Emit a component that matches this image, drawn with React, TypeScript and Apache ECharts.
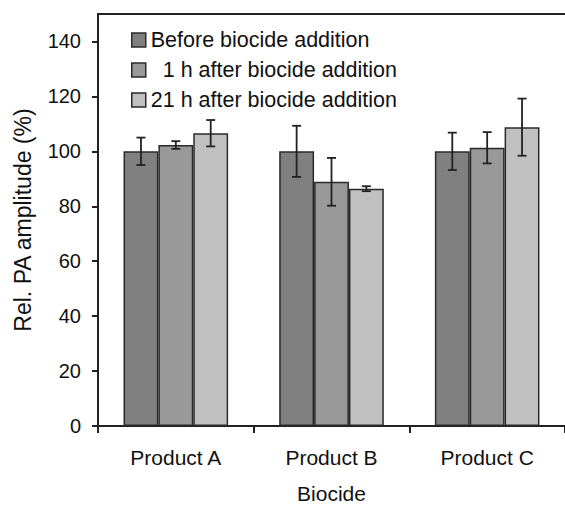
import React, { useEffect, useRef } from "react";
import * as echarts from "echarts";

const categories = ["Product A", "Product B", "Product C"];
const seriesNames = [
  "Before biocide addition",
  "\u00a0\u00a01 h after biocide addition",
  "21 h after biocide addition",
];
const before = [100, 100, 100];
const after1h = [102.3, 88.9, 101.3];
const after21h = [106.6, 86.4, 108.8];
const errBefore = [5.0, 9.3, 6.8];
const err1h = [1.4, 8.7, 5.7];
const err21h = [4.8, 0.9, 10.4];
const yTicks = [0, 20, 40, 60, 80, 100, 120, 140];

const colors = ["#808080", "#999999", "#c0c0c0"];
const FONT = "'Liberation Sans', Arial, sans-serif";
const BAR_FRAC = 0.224;

export default function App() {
  const ref = useRef<HTMLDivElement>(null);
  useEffect(() => {
    if (!ref.current) return;
    const chart = echarts.init(ref.current, null, { renderer: "svg" });
    const values = [before, after1h, after21h];
    const errs = [errBefore, err1h, err21h];
    const errData: any[] = [];
    values.forEach((arr, k) => {
      arr.forEach((v, i) => errData.push([i, v, errs[k][i], k]));
    });
    const barSeries = values.map((arr, k) => ({
      name: seriesNames[k],
      type: "bar",
      data: arr,
      barWidth: BAR_FRAC * 100 + "%",
      barGap: "0%",
      itemStyle: { color: colors[k], borderColor: "#2a2a2a", borderWidth: 1.5 },
      emphasis: { disabled: true },
    }));
    chart.setOption({
      animation: false,
      textStyle: { fontFamily: FONT },
      grid: { left: 98, right: -8.5, top: 14, bottom: 76 },
      legend: {
        orient: "vertical",
        left: 131,
        top: 29,
        padding: 0,
        itemWidth: 14,
        itemHeight: 14,
        itemGap: 8,
        selectedMode: false,
        textStyle: { fontSize: 21.5, color: "#111", fontFamily: FONT },
        data: seriesNames.map((n, k) => ({
          name: n,
          icon: "rect",
          itemStyle: { color: colors[k], borderColor: "#2a2a2a", borderWidth: 1.5 },
        })),
      },
      xAxis: [
        {
          type: "category",
          data: categories,
          position: "bottom",
          axisLine: { lineStyle: { color: "#222", width: 2 } },
          axisTick: { show: true, length: 7, lineStyle: { color: "#222", width: 2 } },
          axisLabel: { fontSize: 21, color: "#111", margin: 21, fontFamily: FONT },
          name: "Biocide",
          nameLocation: "middle",
          nameGap: 57,
          nameTextStyle: { fontSize: 21, color: "#111", fontFamily: FONT },
        },
        {
          type: "category",
          data: categories,
          position: "top",
          axisLine: { show: true, lineStyle: { color: "#222", width: 2 } },
          axisTick: { show: false },
          axisLabel: { show: false },
        },
      ],
      yAxis: {
        type: "value",
        min: 0,
        max: 150,
        interval: 10,
        splitLine: { show: false },
        axisLine: { show: true, lineStyle: { color: "#222", width: 2 } },
        axisTick: { show: true, length: 6, customValues: yTicks, lineStyle: { color: "#222", width: 2 } },
        axisLabel: { fontSize: 20, color: "#111", margin: 17, customValues: yTicks, fontFamily: FONT },
        name: "Rel. PA amplitude (%)",
        nameLocation: "middle",
        nameGap: 64,
        nameTextStyle: { fontSize: 23, color: "#111", fontFamily: FONT },
      },
      series: [
        ...barSeries,
        {
          type: "custom",
          name: "err",
          data: errData,
          z: 10,
          silent: true,
          encode: { x: 0, y: 1 },
          renderItem: (params: any, api: any) => {
            const cat = api.value(0);
            const v = api.value(1);
            const e = api.value(2);
            const k = api.value(3);
            const band = api.size([1, 0])[0];
            const bw = band * BAR_FRAC;
            const c = api.coord([cat, v]);
            const x = c[0] + (k - 1) * bw;
            const hi = api.coord([cat, v + e])[1];
            const lo = api.coord([cat, v - e])[1];
            const cap = 4.5;
            const st = { stroke: "#222", lineWidth: 1.8 };
            return {
              type: "group",
              children: [
                { type: "line", shape: { x1: x, y1: hi, x2: x, y2: lo }, style: st },
                { type: "line", shape: { x1: x - cap, y1: hi, x2: x + cap, y2: hi }, style: st },
                { type: "line", shape: { x1: x - cap, y1: lo, x2: x + cap, y2: lo }, style: st },
              ],
            };
          },
        },
      ],
    });
    return () => chart.dispose();
  }, []);
  return <div ref={ref} style={{ width: 565, height: 509, position: "absolute", left: 0, top: 0 }} />;
}
